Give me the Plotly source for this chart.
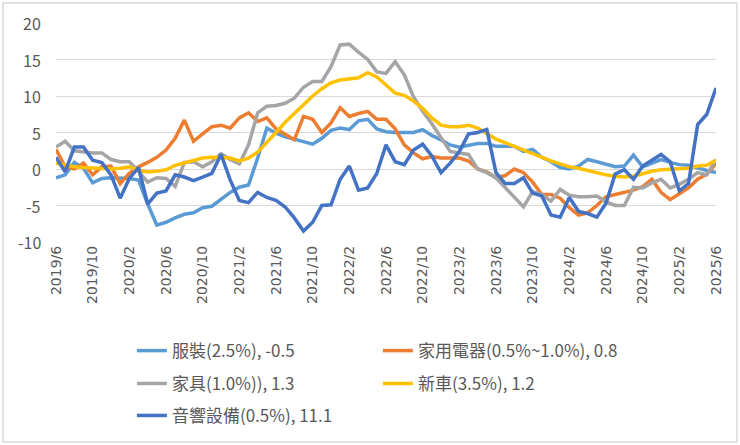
import pandas as pd
import plotly.graph_objects as go

# months 2019/6 .. 2025/6
months = [f"{d.year}/{d.month}" for d in pd.date_range("2019-06-01", "2025-06-01", freq="MS")]
tick_labels = months[::4]
y_ticks = [-10, -5, 0, 5, 10, 15, 20]

# YoY %
clothing = [-1.2, -0.8, 0.9, 0.1, -1.9, -1.3, -1.2, -1.2, -1.3, -1.5,
            -4.8, -7.7, -7.3, -6.7, -6.2, -6.0, -5.3, -5.1, -4.2, -3.2,
            -2.5, -2.2, 1.5, 5.6, 4.9, 4.4, 4.1, 3.8, 3.4, 4.2,
            5.3, 5.6, 5.4, 6.6, 6.8, 5.5, 5.1, 5.0, 5.0, 5.0,
            5.4, 4.6, 4.0, 3.3, 3.0, 3.3, 3.5, 3.5, 3.1, 3.1,
            3.1, 2.4, 2.7, 1.6, 1.0, 0.2, 0.0, 0.4, 1.3, 1.0,
            0.6, 0.3, 0.4, 1.9, 0.3, 0.8, 1.3, 0.9, 0.6, 0.5,
            0.1, -0.2, -0.5]
appliances = [2.7, 0.3, 0.0, 0.8, -0.8, 0.3, 0.4, -2.0, -0.6, 0.3,
              0.9, 1.6, 2.6, 4.2, 6.7, 3.8, 4.8, 5.8, 6.0, 5.6,
              7.0, 7.7, 6.5, 7.0, 5.5, 4.7, 4.0, 7.2, 6.8, 5.0,
              6.3, 8.4, 7.2, 7.6, 7.9, 6.8, 6.8, 5.5, 3.3, 2.2,
              1.4, 1.7, 1.5, 1.5, 1.5, 1.1, 0.0, -0.4, -1.2, -0.9,
              0.0, -0.5, -1.8, -3.5, -3.5, -4.0, -5.3, -6.3, -6.0, -5.0,
              -3.8, -3.5, -3.2, -2.9, -2.4, -1.4, -3.2, -4.2, -3.4, -2.6,
              -1.4, -0.7, 0.8]
furniture = [3.0, 3.8, 2.5, 2.3, 2.2, 2.2, 1.3, 1.0, 1.0, -0.3,
             -1.8, -1.2, -1.3, -2.4, 0.9, 1.0, 0.3, 1.0, 2.1, 1.3,
             0.7, 3.3, 7.7, 8.6, 8.7, 9.0, 9.7, 11.2, 12.0, 12.0,
             14.0, 17.0, 17.1, 16.0, 15.0, 13.3, 13.1, 14.7, 12.9, 9.9,
             7.9, 6.2, 4.2, 2.4, 2.2, 2.0, 0.0, -0.5, -1.2, -2.5,
             -3.8, -5.2, -3.1, -3.5, -4.4, -2.8, -3.6, -3.8, -3.8, -3.7,
             -4.5, -5.0, -5.0, -2.5, -2.6, -1.9, -1.4, -2.6, -2.1, -1.4,
             -0.5, -0.8, 1.3]
new_cars = [0.8, 0.5, 0.3, 0.2, 0.1, 0.1, 0.0, 0.1, 0.3, -0.2,
            -0.4, -0.3, -0.1, 0.5, 0.8, 1.1, 1.5, 1.6, 1.6, 1.5,
            1.1, 1.5, 2.3, 3.6, 5.0, 6.4, 7.6, 8.9, 10.0, 11.0,
            11.8, 12.2, 12.4, 12.5, 13.2, 12.6, 11.5, 10.4, 10.1, 9.3,
            8.3, 7.0, 6.0, 5.8, 5.8, 6.0, 5.6, 4.8, 4.1, 3.6,
            3.1, 2.6, 2.0, 1.5, 1.1, 0.7, 0.3, 0.1, -0.2, -0.6,
            -0.8, -1.0, -1.1, -1.0, -0.6, -0.3, -0.1, 0.0, 0.1, 0.1,
            0.4, 0.5, 1.2]
audio = [1.6, -0.4, 3.0, 3.0, 1.2, 0.9, -0.8, -4.0, -1.3, 0.2,
         -4.8, -3.3, -3.0, -0.8, -1.1, -1.6, -1.1, -0.6, 2.0, -1.5,
         -4.3, -4.6, -3.2, -3.9, -4.3, -5.2, -6.7, -8.5, -7.3, -5.0,
         -4.9, -1.4, 0.4, -2.9, -2.6, -0.6, 3.3, 1.0, 0.6, 2.6,
         3.4, 1.8, -0.5, 0.8, 2.4, 4.8, 5.0, 5.4, -0.5, -2.0,
         -2.0, -1.2, -3.3, -3.7, -6.3, -6.6, -3.9, -5.8, -6.1, -6.6,
         -4.7, -0.7, -0.1, -1.4, 0.4, 1.2, 2.0, 1.0, -3.0, -2.0,
         6.1, 7.5, 11.1]

series = [
    ("服裝(2.5%), -0.5", clothing, "#5B9BD5", "legend"),
    ("家用電器(0.5%~1.0%), 0.8", appliances, "#ED7D31", "legend"),
    ("家具(1.0%)), 1.3", furniture, "#A5A5A5", "legend2"),
    ("新車(3.5%), 1.2", new_cars, "#FFC000", "legend2"),
    ("音響設備(0.5%), 11.1", audio, "#4472C4", "legend3"),
]

fig = go.Figure()
for name, vals, color, leg in series:
    fig.add_trace(go.Scatter(x=months, y=vals, name=name, mode="lines",
                             line=dict(color=color, width=3.5), legend=leg))

font = "Noto Sans CJK TC"
grey = "#595959"
leg_common = dict(orientation="h", x=0.115, xanchor="left", yanchor="middle",
                  entrywidth=201, font=dict(family=font, size=17, color=grey),
                  bgcolor="rgba(0,0,0,0)")

# y tick labels as annotations so they sit at the same distance as the original
for v in y_ticks:
    fig.add_annotation(x=-0.02, xref="paper", xanchor="right", y=v, yref="y",
                       text=str(v), showarrow=False,
                       font=dict(family=font, size=16, color=grey))

fig.update_layout(
    width=740, height=445,
    margin=dict(l=56, r=24, t=23, b=203),
    paper_bgcolor="white", plot_bgcolor="white",
    font=dict(family=font, color=grey),
    legend=dict(leg_common, y=-0.498),
    legend2=dict(leg_common, y=-0.648),
    legend3=dict(leg_common, y=-0.794),
    shapes=[dict(type="rect", xref="paper", yref="paper",
                 x0=-0.0803, x1=1.0318, y0=-0.913, y1=1.091,
                 line=dict(color="#D9D9D9", width=1.5))],
)
fig.update_xaxes(type="category", tickmode="array", tickvals=tick_labels, ticktext=tick_labels,
                 tickangle=-90, tickfont=dict(family="DejaVu Sans", size=14, color=grey),
                 showgrid=False, showline=False, ticks="")
fig.update_yaxes(range=[-10, 20], tickvals=y_ticks, showticklabels=False,
                 gridcolor="#D9D9D9", gridwidth=1,
                 zeroline=True, zerolinecolor="#D9D9D9", zerolinewidth=1, showline=False)

# drop the default page margin so the 740x445 figure fills the window
fig.write_html("out.html", config={"displayModeBar": False},
               post_script="document.body.style.margin='0';")
